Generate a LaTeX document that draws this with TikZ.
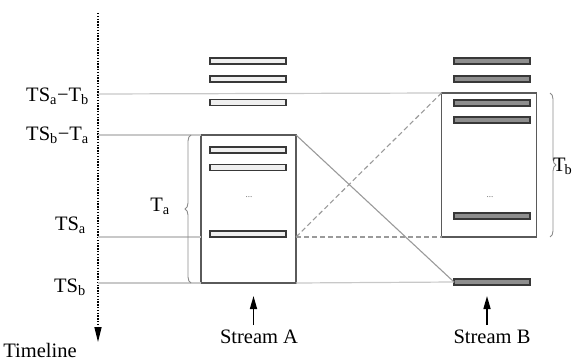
\documentclass[tikz,border=0pt]{standalone}
\usepackage{fontspec}
\setmainfont{Liberation Serif}
\usetikzlibrary{arrows.meta,decorations.pathreplacing}
\definecolor{levelgray}{HTML}{C8C8C8}
\definecolor{linkgray}{HTML}{9A9A9A}
\definecolor{boxgray}{HTML}{5A5A5A}
\definecolor{bardark}{HTML}{383838}
\definecolor{barfillA}{HTML}{EFEFEF}
\definecolor{barfillB}{HTML}{8E8E8E}
\definecolor{bracegray}{HTML}{8A8A8A}
\tikzset{
  level/.style={draw=levelgray, line width=1.2pt},
  link/.style={draw=linkgray, line width=1.1pt},
  linkdash/.style={link, dash pattern=on 5pt off 3pt},
  window/.style={draw=boxgray, line width=1.3pt, minimum width=95pt, inner sep=0pt, outer sep=0pt},
  barA/.style={draw=bardark, fill=barfillA, line width=1.9pt, minimum width=76pt, minimum height=6pt, inner sep=0pt, outer sep=0pt},
  barB/.style={barA, fill=barfillB},
  lvl/.style={anchor=base east, inner sep=0pt},
  span/.style={draw=bracegray, line width=0.9pt, decorate, decoration={brace, amplitude=6pt}},
  dots/.style={font=\fontsize{9}{10}\selectfont, text=black!60, inner sep=0pt},
  streamarrow/.style={line width=1.5pt, -{Triangle[length=13pt,width=7pt]}},
}
\begin{document}
\begin{tikzpicture}[x=1pt, y=-1pt, font=\fontsize{20.5}{24}\selectfont]
\useasboundingbox (0,0) rectangle (573,361);

% time axis
\coordinate (ttop) at (98,13);
\coordinate (tbot) at (98,342);
\draw[line width=1.3pt, dash pattern=on 1.4pt off 1.4pt,
      -{Triangle[length=15pt,width=7pt]}] (ttop) -- (tbot);
\node[anchor=base, inner sep=0pt] (tl) at (40,357) {Timeline};

% levels on the axis
\coordinate (y1) at (98,94);
\coordinate (y2) at (98,135);
\coordinate (y3) at (98,237);
\coordinate (y4) at (98,283);
\node[lvl] (l1) at (89,101) {TS\textsubscript{a}−T\textsubscript{b}};
\node[lvl] (l2) at (89,140) {TS\textsubscript{b}−T\textsubscript{a}};
\node[lvl] (l3) at (86,230) {TS\textsubscript{a}};
\node[lvl] (l4) at (86,292) {TS\textsubscript{b}};

% stream A
\node[window, minimum height=148pt] (wA) at (248.5,209) {};
\foreach \n/\y in {1/61,2/79,3/102.5,4/150,5/167.5,6/234}
  \node[barA] (a\n) at (248,\y) {};
\node[dots] (dA) at (249,197) {...};

% stream B
\node[window, minimum height=144pt] (wB) at (489,165) {};
\foreach \n/\y in {1/61,2/79,3/103,4/120,5/216,6/282}
  \node[barB] (b\n) at (492,\y) {};
\node[dots] (dB) at (490,197) {...};

% level lines
\draw[level] (y1) -- (wB.north west);
\draw[level] (y2) -- (wA.north west);
\coordinate (wAy3) at (wA.west |- y3);
\coordinate (wAy3e) at (wA.east |- y3);
\draw[level] (y3) -- (wAy3);
\draw[level] (y4) -- (wA.south west);
\draw[level] (wA.south east) -- (b6.west);

% links between the streams
\draw[link] (wA.north east) -- (b6.west);
\draw[linkdash] (wAy3e) -- (wB.north west);
\draw[linkdash] (wAy3e) -- (wB.south west);

% window lengths
\coordinate (braA1) at (191,283);
\coordinate (braA2) at (191,135);
\draw[span] (braA1) -- (braA2);
\node[anchor=center, inner sep=0pt] (Ta) at (160,206) {T\textsubscript{a}};
\coordinate (braB1) at (550,93);
\coordinate (braB2) at (550,237);
\draw[span] (braB1) -- (braB2);
\node[anchor=west, inner sep=0pt] (Tb) at (553,166) {T\kern-1pt\textsubscript{b}};

% stream labels
\node[anchor=base, inner sep=0pt] (sA) at (259,343) {Stream A};
\node[anchor=base, inner sep=0pt] (sB) at (492,343) {Stream B};
\coordinate (tailA) at (253.5,325);
\coordinate (tipA) at (253.5,296);
\coordinate (tailB) at (487,325);
\coordinate (tipB) at (487,296);
\draw[streamarrow] (tailA) -- (tipA);
\draw[streamarrow] (tailB) -- (tipB);
\end{tikzpicture}
\end{document}
